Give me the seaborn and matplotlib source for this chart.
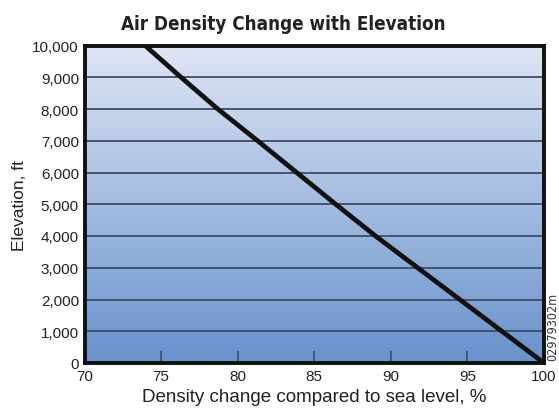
import numpy as np
import pandas as pd
import matplotlib
matplotlib.use("Agg")
import matplotlib.pyplot as plt
import seaborn as sns
from matplotlib.colors import LinearSegmentedColormap

elevation_ft = [0, 1000, 2000, 3000, 4000, 5000, 6000, 7000, 8000, 9000, 10000]
density_pct = [100, 97.25, 94.5, 91.75, 89.0, 86.4, 83.85, 81.3, 78.7, 76.3, 73.95]
x_ticks = [70, 75, 80, 85, 90, 95, 100]
y_ticks = [0, 1000, 2000, 3000, 4000, 5000, 6000, 7000, 8000, 9000, 10000]

df = pd.DataFrame({"density": density_pct, "elevation": elevation_ft})

sns.set_theme(style="white")
plt.rcParams['font.family'] = ['Liberation Sans', 'DejaVu Sans']

fig = plt.figure(figsize=(5.59, 4.10), dpi=100)
ax = fig.add_axes([84.5 / 559, 46 / 410, 459.5 / 559, 317.5 / 410])

# gradient background
cmap = LinearSegmentedColormap.from_list("bg", ["#6892cc", "#dfe6f4"])
grad = np.linspace(0, 1, 256).reshape(-1, 1)
ax.imshow(grad, aspect="auto", cmap=cmap, origin="lower",
          extent=[0, 1, 0, 1], transform=ax.transAxes, zorder=0)

for yv in y_ticks[1:-1]:
    ax.axhline(yv, color="#3d4c63", lw=1.3, zorder=1)

sns.lineplot(data=df, x="density", y="elevation", ax=ax, color="#111111",
             lw=3.4, sort=False, zorder=3, estimator=None)

ax.set_xlim(70, 100)
ax.set_ylim(0, 10000)
ax.set_xticks(x_ticks)
ax.set_yticks(y_ticks)
ax.set_xticklabels([str(v) for v in x_ticks], fontsize=11, color="#222222")
ax.set_yticklabels([f"{v:,}" for v in y_ticks], fontsize=11, color="#222222")
ax.tick_params(axis="x", direction="in", length=9, width=1.2, color="#3d4c63", pad=4, bottom=True)
ax.tick_params(axis="y", length=0, pad=4, left=False)
ax.set_xlabel("Density change compared to sea level, %", fontsize=13.5, color="#222222", labelpad=4)
ax.set_ylabel("Elevation, ft", fontsize=12.5, color="#222222", labelpad=4)

for s in ax.spines.values():
    s.set_visible(True)
    s.set_color("#111111")
    s.set_linewidth(2.8)

fig.text(283.5 / 559, 1 - 24 / 410, "Air Density Change with Elevation", ha="center", va="center",
         fontsize=13.5, fontweight="bold", fontstretch="condensed", color="#222222",
         family=["DejaVu Sans"])
fig.text(553 / 559, 49 / 410, "02979302m", rotation=90, ha="center", va="bottom",
         fontsize=9, fontstretch="condensed", color="#333333", family=["DejaVu Sans"])

fig.savefig("out.png", dpi=100)
